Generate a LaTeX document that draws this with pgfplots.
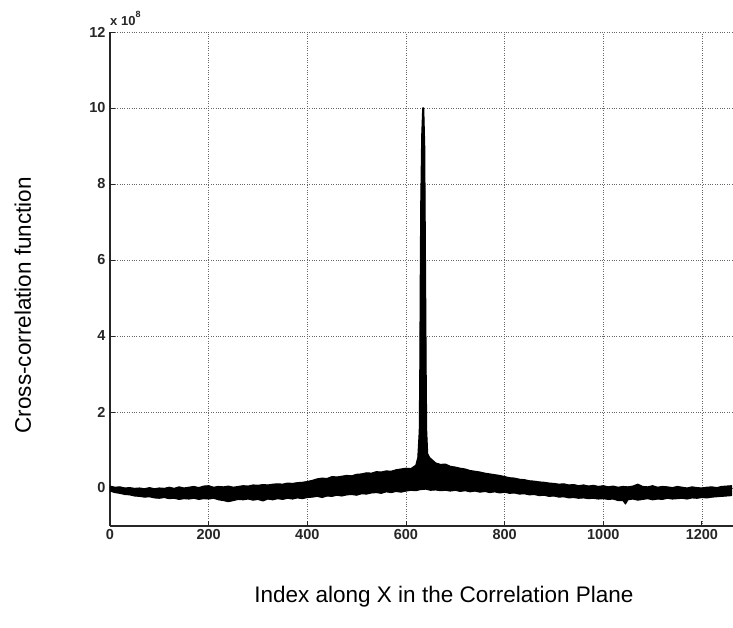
\documentclass[border=0pt]{standalone}
\usepackage{fontspec}
\setmainfont{Liberation Sans}
\usepackage{pgfplots}
\pgfplotsset{compat=1.18}
\begin{document}
\begin{tikzpicture}
\begin{axis}[
  scale only axis,
  width=623pt, height=494pt,
  xmin=0, xmax=1263, ymin=-1, ymax=12,
  axis x line*=bottom, axis y line*=left,
  axis line style={line width=1.1pt, black!85, -},
  xtick={0,200,...,1200}, ytick={0,2,...,12},
  scaled ticks=false,
  tick align=inside, major tick length=5pt,
  tick style={line width=0.9pt, black!85},
  grid=major,
  major grid style={dotted, line width=0.8pt, black!60},
  /pgf/number format/assume math mode=true,
  /pgf/number format/1000 sep={},
  tick label style={font=\fontsize{14.5}{16}\selectfont\bfseries, black!85},
  yticklabel style={xshift=-1pt},
  xticklabel style={yshift=0pt},
  clip=false,
]
\addplot[fill=black, draw=black, line width=1.1pt, line join=round] coordinates {
(0,0.05)(10,0.02)(20,0.03)(30,0.00)(40,0.01)(50,-0.01)(60,0.00)(70,-0.02)(80,0.01)(90,-0.02)(100,0.00)(110,-0.01)(120,0.02)(130,-0.01)(140,0.03)(150,0.00)(160,0.02)(170,0.04)(180,0.01)(190,0.05)(200,0.06)(210,0.02)(220,0.04)(230,0.03)(240,0.05)(250,0.02)(260,0.04)(270,0.06)(280,0.05)(290,0.08)(300,0.07)(310,0.09)(320,0.08)(330,0.10)(340,0.11)(350,0.10)(360,0.13)(370,0.12)(380,0.14)(390,0.15)(400,0.17)(410,0.20)(420,0.24)(430,0.26)(440,0.25)(450,0.30)(460,0.29)(470,0.31)(480,0.33)(490,0.32)(500,0.36)(510,0.37)(520,0.40)(530,0.39)(540,0.43)(550,0.42)(560,0.45)(570,0.44)(580,0.48)(590,0.50)(600,0.52)(610,0.51)(620,0.60)(624,0.80)(627,1.5)(628,3)(629,5.5)(630,7.5)(632,9.3)(634,10.0)(636,10.0)(638,9.0)(639,7.0)(640,5.0)(641,3.0)(642,1.5)(644,0.9)(648,0.80)(655,0.72)(660,0.66)(670,0.62)(680,0.63)(690,0.57)(700,0.55)(710,0.52)(720,0.50)(730,0.46)(740,0.44)(750,0.42)(760,0.39)(770,0.37)(780,0.35)(790,0.33)(800,0.30)(810,0.27)(820,0.26)(830,0.23)(840,0.22)(850,0.19)(860,0.18)(870,0.16)(880,0.15)(890,0.13)(900,0.12)(910,0.10)(920,0.11)(930,0.08)(940,0.09)(950,0.06)(960,0.08)(970,0.05)(980,0.07)(990,0.04)(1000,0.06)(1010,0.03)(1020,0.05)(1030,0.02)(1040,0.04)(1050,0.03)(1060,0.05)(1070,0.10)(1080,0.04)(1090,0.03)(1100,0.06)(1110,0.02)(1120,0.04)(1130,0.03)(1140,0.01)(1150,0.04)(1160,0.02)(1170,0.00)(1180,0.03)(1190,0.01)(1200,0.00)(1210,0.02)(1220,0.03)(1230,0.01)(1240,0.04)(1250,0.05)(1260,0.06)
(1260,-0.20)(1250,-0.21)(1240,-0.22)(1230,-0.23)(1220,-0.24)(1210,-0.26)(1200,-0.25)(1190,-0.27)(1180,-0.26)(1170,-0.29)(1160,-0.27)(1150,-0.28)(1140,-0.29)(1130,-0.27)(1120,-0.30)(1110,-0.29)(1100,-0.31)(1090,-0.28)(1080,-0.30)(1070,-0.32)(1060,-0.29)(1050,-0.31)(1045,-0.42)(1040,-0.33)(1030,-0.33)(1020,-0.29)(1010,-0.30)(1000,-0.28)(990,-0.29)(980,-0.27)(970,-0.28)(960,-0.26)(950,-0.27)(940,-0.25)(930,-0.26)(920,-0.23)(910,-0.24)(900,-0.21)(890,-0.22)(880,-0.19)(870,-0.20)(860,-0.17)(850,-0.18)(840,-0.15)(830,-0.16)(820,-0.13)(810,-0.14)(800,-0.11)(790,-0.13)(780,-0.10)(770,-0.12)(760,-0.09)(750,-0.11)(740,-0.08)(730,-0.10)(720,-0.07)(710,-0.09)(700,-0.06)(690,-0.08)(680,-0.06)(670,-0.07)(660,-0.05)(650,-0.06)(640,-0.03)(630,-0.04)(620,-0.07)(610,-0.06)(600,-0.08)(590,-0.11)(580,-0.09)(570,-0.12)(560,-0.10)(550,-0.14)(540,-0.12)(530,-0.13)(520,-0.16)(510,-0.15)(500,-0.19)(490,-0.17)(480,-0.18)(470,-0.21)(460,-0.19)(450,-0.22)(440,-0.21)(430,-0.25)(420,-0.22)(410,-0.24)(400,-0.25)(390,-0.28)(380,-0.26)(370,-0.29)(360,-0.27)(350,-0.30)(340,-0.28)(330,-0.31)(320,-0.29)(310,-0.34)(300,-0.30)(290,-0.32)(280,-0.29)(270,-0.31)(260,-0.30)(250,-0.33)(240,-0.36)(230,-0.33)(220,-0.31)(210,-0.27)(200,-0.29)(190,-0.28)(180,-0.30)(170,-0.27)(160,-0.29)(150,-0.28)(140,-0.30)(130,-0.27)(120,-0.28)(110,-0.25)(100,-0.27)(90,-0.26)(80,-0.23)(70,-0.24)(60,-0.22)(50,-0.21)(40,-0.18)(30,-0.17)(20,-0.14)(10,-0.12)(0,-0.08)
};
\coordinate (O) at (rel axis cs:0,0);
\node[anchor=base west, inner sep=0pt, font=\fontsize{13}{15}\selectfont\bfseries, black!85] at ([shift={(0pt,6pt)}]rel axis cs:0,1) {x 10\raisebox{8pt}{\fontsize{9}{10}\selectfont 8}};
\node[anchor=base, inner sep=0pt, font=\fontsize{22.5}{26}\selectfont] at ([shift={(0pt,-77pt)}]rel axis cs:0.536,0) {Index along X in the Correlation Plane};
\node[anchor=base, rotate=90, inner sep=0pt, font=\fontsize{22.5}{26}\selectfont] at ([shift={(-79pt,0pt)}]rel axis cs:0,0.447) {Cross-correlation function};
\end{axis}
\pgfresetboundingbox
\path[use as bounding box] ([shift={(-110pt,-102pt)}]O) rectangle ([shift={(623pt,526pt)}]O);
\end{tikzpicture}
\end{document}
